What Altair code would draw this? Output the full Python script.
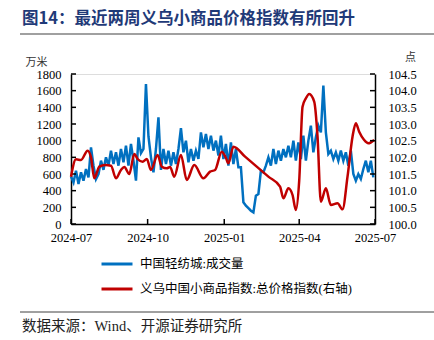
import altair as alt
import pandas as pd

title_text = "图14：最近两周义乌小商品价格指数有所回升"
source_text = "数据来源：Wind、开源证券研究所"
left_unit = "万米"
right_unit = "点"
blue_name = "中国轻纺城:成交量"
red_name = "义乌中国小商品指数:总价格指数(右轴)"

# Blue series: sampled every 3 days from 2024-07-01 (万米)
blue_start = "2024-07-01"
blue_values = [
    570, 500, 640, 480, 620, 520, 660, 560, 920, 700,
    540, 600, 760, 650, 800, 700, 880, 720, 860, 700,
    900, 740, 940, 700, 960, 760, 520, 1040, 850, 900,
    1680, 1050, 800, 620, 900, 1280, 650, 900, 720, 880,
    700, 860, 720, 900, 1150, 860, 1000, 740, 900, 760,
    880, 780, 1100, 920, 1080, 900, 1060, 880, 1000, 820,
    1060, 780, 960, 700, 980, 720, 900, 680, 680, 260,
    220, 190, 160, 140, 340, 360, 640, 620, 700, 800,
    700, 900, 720, 880, 760, 900, 800, 940, 800, 1000,
    760, 980, 780, 1060, 760, 1000, 1180, 860, 1040, 1180,
    1100, 1660, 1100, 840, 880, 780, 860, 760, 880, 760,
    860, 700, 880, 600, 520, 600, 540, 660, 760, 620,
    760, 560,
]

# Red series (right axis, 点)
red_dates = [
    "2024-07-01", "2024-07-07", "2024-07-13", "2024-07-21", "2024-07-25",
    "2024-07-29", "2024-08-04", "2024-08-11", "2024-08-18", "2024-08-24",
    "2024-08-30", "2024-09-03", "2024-09-09", "2024-09-15", "2024-09-19",
    "2024-09-25", "2024-09-30", "2024-10-05", "2024-10-13", "2024-10-18",
    "2024-10-24", "2024-10-28", "2024-11-02", "2024-11-10", "2024-11-17",
    "2024-11-26", "2024-12-07", "2024-12-15", "2024-12-21", "2024-12-29",
    "2025-01-03", "2025-01-06", "2025-01-12", "2025-01-26", "2025-02-09",
    "2025-02-23", "2025-03-09", "2025-03-13",
    "2025-03-19", "2025-03-24", "2025-03-28", "2025-04-01", "2025-04-05",
    "2025-04-09", "2025-04-13", "2025-04-19", "2025-04-23", "2025-04-27",
    "2025-05-03", "2025-05-09", "2025-05-17", "2025-05-23", "2025-05-29",
    "2025-06-04", "2025-06-08", "2025-06-12", "2025-06-18", "2025-06-23",
    "2025-06-30",
]
red_values = [
    101.42, 101.94, 101.92, 102.20, 102.00,
    101.37, 101.72, 101.77, 101.75, 101.37,
    101.62, 101.71, 101.50, 102.10, 101.95,
    101.87, 101.95, 101.62, 102.07, 101.72,
    101.67, 101.71, 101.42, 102.07, 101.32,
    101.77, 101.37, 101.57, 101.62, 102.17,
    101.98, 101.82, 102.32, 102.02, 101.72,
    101.42, 101.12, 100.77,
    101.07, 100.87, 100.42, 101.30, 103.52,
    103.77, 103.90, 103.67, 102.62, 100.67,
    101.07, 100.57, 100.62, 100.44, 101.42,
    102.62, 103.02, 102.77, 102.52, 102.42,
    102.52,
]

left_ticks = [0, 200, 400, 600, 800, 1000, 1200, 1400, 1600, 1800]
right_ticks = [100.0, 100.5, 101.0, 101.5, 102.0, 102.5, 103.0, 103.5, 104.0, 104.5]
x_tick_dates = ["2024-07-01", "2024-10-01", "2025-01-01", "2025-04-01", "2025-07-01"]

blue_df = pd.DataFrame({
    "date": pd.date_range(blue_start, periods=len(blue_values), freq="3D").strftime("%Y-%m-%d"),
    "value": blue_values,
    "series": blue_name,
})
red_df = pd.DataFrame({"date": red_dates, "value": red_values, "series": red_name})

W, H = 304, 150
SERIF = "'Liberation Serif', 'Noto Sans CJK SC', serif"
CJK = "'Noto Sans CJK SC', sans-serif"

def dt(s):
    y, m, d = (int(p) for p in s.split("-"))
    return alt.DateTime(year=y, month=m, date=d, utc=True)

x_scale = alt.Scale(type="utc", domain=[dt("2024-07-01"), dt("2025-07-01")])
x_axis = alt.Axis(
    values=[dt(s) for s in x_tick_dates], format="%Y-%m", labelFont=SERIF,
    labelFontSize=12.5, labelColor="black", tickSize=0, labelPadding=7,
    domainColor="black", domainWidth=1.5, grid=False, title=None, labelFlush=False,
)
left_axis = alt.Axis(
    orient="left", values=left_ticks, format="d", labelFont=SERIF, labelFontSize=12.5,
    labelColor="black", tickSize=0, labelPadding=10, domainColor="black",
    domainWidth=1.5, grid=False, title=left_unit, titleAngle=0, titleX=-35,
    titleY=-12, titleAlign="center", titleBaseline="middle", titleFont=CJK,
    titleFontSize=11, titleFontWeight="normal", titleColor="#333333",
)
right_axis = alt.Axis(
    orient="right", values=right_ticks, format=".1f", labelFont=SERIF,
    labelFontSize=12.5, labelColor="black", tickSize=0, labelPadding=13,
    domainColor="black", domainWidth=1.5, grid=False, title=right_unit,
    titleAngle=0, titleX=35, titleY=-17, titleAlign="center",
    titleBaseline="middle", titleFont=CJK, titleFontSize=11,
    titleFontWeight="normal", titleColor="#333333",
)

color_enc = alt.Color(
    "series:N",
    scale=alt.Scale(domain=[blue_name, red_name], range=["#0070c0", "#c00000"]),
    legend=alt.Legend(
        title=None, orient="none", legendX=29, legendY=173, symbolType="stroke",
        symbolStrokeWidth=3, symbolSize=961, labelFont=SERIF, labelFontSize=12.5,
        labelColor="black", labelOffset=6, rowPadding=1, labelLimit=400,
    ),
)

left_y_scale = alt.Scale(domain=[0, 1800])
right_y_scale = alt.Scale(domain=[100, 104.5])

blue = alt.Chart(blue_df).mark_line(strokeWidth=2.5).encode(
    x=alt.X("date:T", scale=x_scale, axis=x_axis),
    y=alt.Y("value:Q", scale=left_y_scale, axis=left_axis),
    color=color_enc,
)
lticks = alt.Chart(pd.DataFrame({"value": left_ticks})).mark_rule(
    color="black", strokeWidth=1.5).encode(
    y=alt.Y("value:Q", scale=left_y_scale, axis=left_axis),
    x=alt.value(0), x2=alt.value(5))

red = alt.Chart(red_df).mark_line(strokeWidth=2.5, interpolate="monotone").encode(
    x=alt.X("date:T", scale=x_scale, axis=x_axis),
    y=alt.Y("value:Q", scale=right_y_scale, axis=right_axis),
    color=color_enc,
)
rticks = alt.Chart(pd.DataFrame({"value": right_ticks})).mark_rule(
    color="black", strokeWidth=1.5).encode(
    y=alt.Y("value:Q", scale=right_y_scale, axis=right_axis),
    x=alt.value(W), x2=alt.value(W - 5))

xticks = alt.Chart(pd.DataFrame({"date": x_tick_dates})).mark_rule(
    color="black", strokeWidth=1.5).encode(
    x=alt.X("date:T", scale=x_scale, axis=x_axis),
    y=alt.value(H), y2=alt.value(H - 5))

title = alt.Chart(pd.DataFrame({"t": [title_text]})).mark_text(
    align="left", baseline="middle", font=CJK, fontSize=16.5, fontWeight="bold",
    color="#1f3a78").encode(text="t:N", x=alt.value(-49), y=alt.value(-55))
title_line = alt.Chart(pd.DataFrame({"a": [0]})).mark_rule(
    color="#808080", strokeWidth=1.5).encode(
    x=alt.value(-51), x2=alt.value(363), y=alt.value(-40))
src_line = alt.Chart(pd.DataFrame({"a": [0]})).mark_rule(
    color="#404040", strokeWidth=1).encode(
    x=alt.value(-51), x2=alt.value(363), y=alt.value(238))
src = alt.Chart(pd.DataFrame({"t": [source_text]})).mark_text(
    align="left", baseline="middle", font=SERIF, fontSize=14.5,
    color="#222222").encode(text="t:N", x=alt.value(-49), y=alt.value(253))

chart = alt.layer(
    alt.layer(blue, lticks),
    alt.layer(red, rticks),
    xticks, title, title_line, src_line, src,
).resolve_scale(y="independent").properties(
    width=W, height=H,
    padding={"left": 71, "top": 74, "right": 59, "bottom": 116},
    autosize=alt.AutoSizeParams(type="none"),
).configure_view(stroke=None).configure(background="white")

chart.save("out.html", embed_options={"renderer": "svg", "actions": False})
